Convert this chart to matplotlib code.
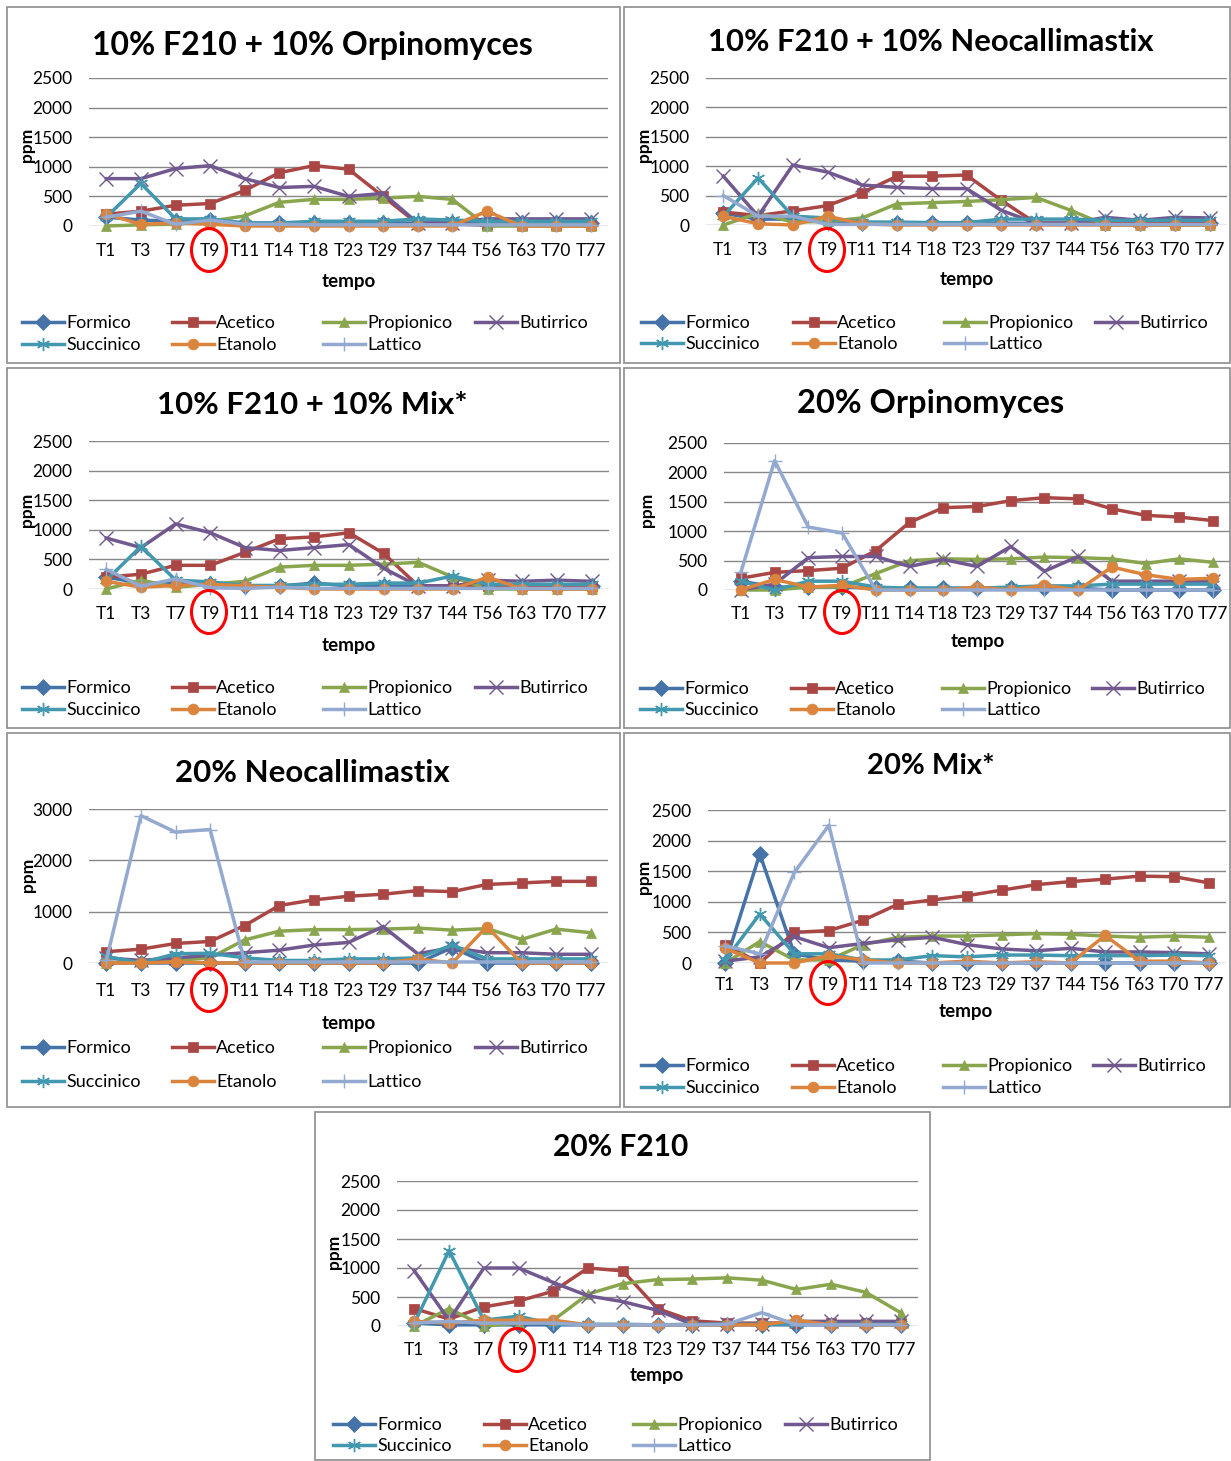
import matplotlib
matplotlib.use('Agg')
import matplotlib.pyplot as plt
from matplotlib.patches import Rectangle, Ellipse

W, H = 1231, 1461
DPI = 100
plt.rcParams['font.family'] = ['Lato', 'DejaVu Sans']

times = ['T1', 'T3', 'T7', 'T9', 'T11', 'T14', 'T18', 'T23', 'T29', 'T37', 'T44', 'T56', 'T63', 'T70', 'T77']
series_names = ['Formico', 'Acetico', 'Propionico', 'Butirrico', 'Succinico', 'Etanolo', 'Lattico']
series_colors = ['#4572A7', '#AA4643', '#89A54E', '#71588F', '#4198AF', '#DB843D', '#93A9CF']
series_markers = ['D', 's', '^', 'x', (6, 2, 0), 'o', '+']

# ---- 10% F210 + 10% Orpinomyces
p1_formico    = [150, 100, 80, 100, 50, 50, 50, 50, 50, 50, 50, 50, 50, 50, 50]
p1_acetico    = [200, 250, 350, 380, 600, 900, 1020, 960, 500, 40, 40, 10, 10, 10, 10]
p1_propionico = [0, 20, 30, 80, 170, 400, 450, 450, 470, 500, 450, 0, 0, 0, 0]
p1_butirrico  = [800, 800, 970, 1020, 800, 650, 670, 500, 550, 50, 50, 120, 120, 120, 120]
p1_succinico  = [150, 720, 120, 120, 50, 50, 80, 80, 80, 120, 100, 80, 80, 80, 80]
p1_etanolo    = [200, 30, 50, 30, 0, 0, 0, 0, 0, 0, 0, 250, 0, 0, 0]
p1_lattico    = [150, 250, 30, 100, 30, 30, 20, 20, 20, 20, 20, 20, 20, 20, 20]

# ---- 10% F210 + 10% Neocallimastix
p2_formico    = [200, 100, 100, 50, 30, 30, 30, 30, 30, 30, 30, 30, 30, 30, 30]
p2_acetico    = [220, 160, 240, 330, 550, 830, 830, 850, 420, 30, 30, 30, 30, 30, 30]
p2_propionico = [0, 200, 50, 60, 120, 360, 380, 400, 430, 470, 250, 0, 0, 0, 0]
p2_butirrico  = [830, 150, 1020, 900, 680, 640, 620, 620, 250, 30, 30, 130, 80, 130, 120]
p2_succinico  = [150, 800, 150, 120, 50, 50, 40, 40, 100, 100, 100, 80, 80, 80, 80]
p2_etanolo    = [150, 20, 0, 150, 20, 0, 0, 0, 0, 0, 0, 0, 0, 0, 0]
p2_lattico    = [500, 150, 150, 10, 10, 10, 10, 10, 10, 10, 10, 10, 10, 10, 10]

# ---- 10% F210 + 10% Mix*
p3_formico    = [200, 100, 100, 80, 50, 50, 100, 50, 50, 50, 50, 50, 50, 50, 50]
p3_acetico    = [200, 250, 400, 400, 620, 850, 880, 950, 600, 50, 50, 50, 50, 50, 50]
p3_propionico = [0, 150, 30, 80, 130, 370, 400, 400, 420, 450, 200, 0, 0, 0, 0]
p3_butirrico  = [860, 700, 1100, 950, 700, 650, 700, 750, 350, 50, 50, 150, 130, 150, 130]
p3_succinico  = [150, 720, 150, 120, 60, 60, 80, 80, 100, 100, 220, 80, 80, 80, 80]
p3_etanolo    = [130, 30, 60, 80, 50, 30, 0, 0, 0, 0, 0, 200, 0, 0, 0]
p3_lattico    = [330, 50, 170, 20, 10, 30, 10, 10, 10, 10, 10, 10, 10, 10, 10]

# ---- 20% Orpinomyces
p4_formico    = [150, 50, 50, 50, 30, 30, 30, 30, 30, 30, 30, 0, 0, 0, 0]
p4_acetico    = [200, 300, 330, 370, 670, 1150, 1400, 1420, 1520, 1570, 1550, 1380, 1270, 1240, 1180]
p4_propionico = [0, 0, 50, 50, 280, 500, 530, 520, 530, 560, 550, 530, 450, 530, 470]
p4_butirrico  = [0, 100, 550, 570, 570, 400, 520, 400, 740, 320, 570, 150, 150, 150, 150]
p4_succinico  = [150, 0, 150, 150, 50, 30, 30, 30, 50, 70, 70, 100, 100, 100, 100]
p4_etanolo    = [0, 180, 50, 80, 0, 0, 0, 50, 0, 80, 0, 390, 260, 180, 200]
p4_lattico    = [300, 2200, 1070, 970, 0, 0, 0, 0, 0, 0, 0, 0, 0, 0, 0]

# ---- 20% Neocallimastix
p5_formico    = [0, 0, 0, 0, 0, 0, 0, 0, 0, 0, 300, 0, 0, 0, 0]
p5_acetico    = [220, 270, 380, 420, 730, 1120, 1230, 1300, 1340, 1410, 1390, 1530, 1560, 1590, 1590]
p5_propionico = [0, 50, 50, 100, 450, 620, 650, 650, 660, 680, 640, 670, 460, 660, 590]
p5_butirrico  = [100, 50, 100, 150, 200, 250, 350, 400, 710, 180, 300, 200, 200, 170, 170]
p5_succinico  = [130, 0, 180, 190, 100, 50, 50, 80, 80, 100, 350, 80, 80, 80, 80]
p5_etanolo    = [0, 0, 20, 0, 0, 0, 0, 0, 0, 80, 0, 710, 0, 0, 0]
p5_lattico    = [50, 2870, 2550, 2600, 20, 20, 20, 20, 20, 20, 20, 20, 20, 20, 20]

# ---- 20% Mix*
p6_formico    = [0, 1780, 150, 50, 30, 30, 0, 0, 0, 0, 0, 0, 0, 0, 0]
p6_acetico    = [300, 0, 500, 530, 700, 960, 1030, 1100, 1190, 1280, 1330, 1370, 1420, 1410, 1310]
p6_propionico = [0, 350, 50, 50, 300, 420, 440, 440, 460, 480, 470, 440, 420, 440, 420]
p6_butirrico  = [30, 100, 430, 250, 320, 380, 420, 300, 230, 200, 240, 180, 180, 170, 150]
p6_succinico  = [50, 800, 150, 150, 50, 50, 120, 100, 130, 130, 120, 120, 120, 130, 120]
p6_etanolo    = [240, 0, 0, 120, 50, 0, 0, 30, 0, 20, 0, 450, 30, 30, 0]
p6_lattico    = [280, 150, 1480, 2250, 0, 0, 0, 0, 0, 0, 0, 0, 0, 0, 0]

# ---- 20% F210
p7_formico    = [50, 20, 20, 20, 20, 20, 20, 20, 20, 20, 20, 20, 20, 20, 20]
p7_acetico    = [300, 120, 330, 430, 600, 1000, 950, 300, 90, 50, 50, 50, 50, 50, 50]
p7_propionico = [0, 300, 0, 50, 100, 550, 730, 800, 810, 830, 790, 630, 720, 580, 230]
p7_butirrico  = [950, 100, 1000, 1000, 750, 520, 420, 270, 30, 30, 30, 80, 80, 80, 80]
p7_succinico  = [50, 1300, 100, 170, 30, 30, 30, 20, 30, 30, 30, 30, 30, 30, 30]
p7_etanolo    = [80, 50, 100, 100, 100, 20, 20, 20, 20, 20, 20, 100, 20, 20, 20]
p7_lattico    = [50, 80, 50, 50, 50, 20, 20, 20, 20, 30, 230, 20, 20, 20, 20]

titles = ['10% F210 + 10% Orpinomyces', '10% F210 + 10% Neocallimastix', '10% F210 + 10% Mix*',
          '20% Orpinomyces', '20% Neocallimastix', '20% Mix*', '20% F210']

panel_data = [
    [p1_formico, p1_acetico, p1_propionico, p1_butirrico, p1_succinico, p1_etanolo, p1_lattico],
    [p2_formico, p2_acetico, p2_propionico, p2_butirrico, p2_succinico, p2_etanolo, p2_lattico],
    [p3_formico, p3_acetico, p3_propionico, p3_butirrico, p3_succinico, p3_etanolo, p3_lattico],
    [p4_formico, p4_acetico, p4_propionico, p4_butirrico, p4_succinico, p4_etanolo, p4_lattico],
    [p5_formico, p5_acetico, p5_propionico, p5_butirrico, p5_succinico, p5_etanolo, p5_lattico],
    [p6_formico, p6_acetico, p6_propionico, p6_butirrico, p6_succinico, p6_etanolo, p6_lattico],
    [p7_formico, p7_acetico, p7_propionico, p7_butirrico, p7_succinico, p7_etanolo, p7_lattico],
]

# layout in pixels
layouts = [
    dict(box=(7, 7, 620, 363), ax=(89, 78, 608, 226), ymax=2500, step=500, title=(312, 45), tsize=23,
         tempo=(349, 281), ppm=(27, 145), cols=(22, 172, 323, 475), rows=(323, 345), ell=(209, 250), xpad=25),
    dict(box=(624, 7, 1230, 363), ax=(706, 78, 1227, 225), ymax=2500, step=500, title=(931, 42), tsize=22.3,
         tempo=(967, 279), ppm=(644, 145), cols=(641, 793, 944, 1095), rows=(323, 344), ell=(827, 250), xpad=25),
    dict(box=(7, 368, 620, 728), ax=(89, 441, 609, 589), ymax=2500, step=500, title=(312, 405), tsize=22.4,
         tempo=(349, 646), ppm=(27, 510), cols=(22, 172, 323, 475), rows=(688, 710), ell=(209, 612), xpad=25),
    dict(box=(624, 368, 1230, 728), ax=(724, 443, 1230, 590), ymax=2500, step=500, title=(931, 403), tsize=23.5,
         tempo=(978, 641), ppm=(647, 510), cols=(640, 791, 942, 1092), rows=(689, 710), ell=(842, 612), xpad=24),
    dict(box=(7, 733, 620, 1107), ax=(89, 809, 608, 963), ymax=3000, step=1000, title=(312, 773), tsize=22.5,
         tempo=(349, 1023), ppm=(28, 875), cols=(22, 172, 323, 475), rows=(1048, 1082), ell=(209, 990), xpad=28),
    dict(box=(624, 733, 1230, 1107), ax=(708, 810, 1226, 963), ymax=2500, step=500, title=(931, 766), tsize=21,
         tempo=(966, 1011), ppm=(644, 877), cols=(641, 792, 943, 1093), rows=(1066, 1088), ell=(828, 983), xpad=22),
    dict(box=(315, 1112, 930, 1460), ax=(397, 1181, 918, 1326), ymax=2500, step=500, title=(621, 1147), tsize=21.5,
         tempo=(657, 1376), ppm=(334, 1252), cols=(333, 484, 633, 785), rows=(1425, 1446), ell=(517, 1350), xpad=24),
]

fig = plt.figure(figsize=(W / DPI, H / DPI), dpi=DPI)
fig.patch.set_facecolor('white')


def fx(x):
    return x / W


def fy(y):
    return 1 - y / H


legend_order = [(0, 0), (1, 0), (2, 0), (3, 0), (0, 1), (1, 1), (2, 1)]
x_idx = list(range(len(times)))

for data, title, L in zip(panel_data, titles, layouts):
    bx0, by0, bx1, by1 = L['box']
    fig.add_artist(Rectangle((fx(bx0), fy(by1)), fx(bx1 - bx0), (by1 - by0) / H,
                             transform=fig.transFigure, fill=False, ec='#8c8c8c', lw=1.2))
    ax0, ay0, ax1, ay1 = L['ax']
    ax = fig.add_axes([fx(ax0), fy(ay1), fx(ax1 - ax0), (ay1 - ay0) / H])
    ax.set_facecolor('none')
    handles = []
    for vals, name, col, mk in zip(data, series_names, series_colors, series_markers):
        line_based = mk in ('x', '+') or isinstance(mk, tuple)
        h, = ax.plot(x_idx, vals, color=col, lw=2.5, marker=mk,
                     markersize=9.5 if line_based else 7.8,
                     markeredgewidth=1.0 if line_based else 0.5,
                     markeredgecolor=col, markerfacecolor=col, label=name, clip_on=False)
        handles.append(h)
    ax.set_xlim(-0.5, len(times) - 0.5)
    ax.set_ylim(0, L['ymax'])
    ax.set_yticks(range(0, L['ymax'] + 1, L['step']))
    ax.set_xticks(x_idx)
    ax.set_xticklabels(times)
    for s in ax.spines.values():
        s.set_visible(False)
    ax.tick_params(axis='both', length=0, labelsize=12.5, colors='black')
    ax.tick_params(axis='y', pad=12)
    ax.tick_params(axis='x', pad=L['xpad'] * 0.72 - 6)
    ax.grid(axis='y', color='#878787', lw=1)
    ax.set_axisbelow(True)
    fig.text(fx(L['title'][0]), fy(L['title'][1]), title, ha='center', va='center',
             fontsize=L['tsize'], fontweight='bold')
    fig.text(fx(L['tempo'][0]), fy(L['tempo'][1]), 'tempo', ha='center', va='center',
             fontsize=13.5, fontweight='bold')
    fig.text(fx(L['ppm'][0]), fy(L['ppm'][1]), 'ppm', ha='center', va='center',
             fontsize=12.5, fontweight='bold', rotation=90)
    ecx, ecy = L['ell']
    fig.add_artist(Ellipse((fx(ecx), fy(ecy)), 35 / W, 43 / H, transform=fig.transFigure,
                           fill=False, ec='#ff0000', lw=2.2))
    for h, (c, r) in zip(handles, legend_order):
        fig.legend([h], [h.get_label()], loc='center left',
                   bbox_to_anchor=(fx(L['cols'][c]), fy(L['rows'][r])),
                   frameon=False, fontsize=13, handlelength=2.35, handletextpad=0.1,
                   borderpad=0, borderaxespad=0, markerscale=1.0)

fig.savefig('out.png', dpi=DPI, facecolor='white')
